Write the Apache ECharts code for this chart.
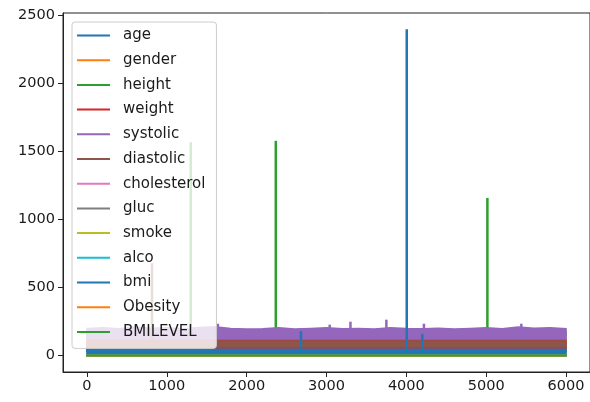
<!DOCTYPE html>
<html>
<head>
	<meta charset="utf-8">
	<title>features plot</title>
	<script type="text/javascript" src="https://cdn.jsdelivr.net/npm/echarts@6/dist/echarts.min.js"></script>
	<style>body{margin:0;background:#fff}</style>
</head>
<body>
	<div id='main' style='width: 590px;height:402px;'></div>
	<script type="text/javascript">
// column names and matplotlib tab10 colours, in plotting order
var names = ['age', 'gender', 'height', 'weight', 'systolic', 'diastolic', 'cholesterol',
    'gluc', 'smoke', 'alco', 'bmi', 'Obesity', 'BMILEVEL'];
var colors = ['#1f77b4', '#ff7f0e', '#2ca02c', '#d62728', '#9467bd', '#8c564b', '#e377c2',
    '#7f7f7f', '#bcbd22', '#17becf', '#1f77b4', '#ff7f0e', '#2ca02c'];

// row index where the envelope of each dense band is read
var xs = [0, 200, 400, 600, 800, 1000, 1200, 1400, 1600, 1800, 2000, 2200, 2400, 2600, 2800,
    3000, 3200, 3400, 3600, 3800, 4000, 4200, 4400, 4600, 4800, 5000, 5200, 5400, 5600, 5800, 6000];

// low / high edge of each band (a pair means a flat band)
var ageBand = [30, 64];
var genderBand = [1, 2];
var heightBand = [145, 182];
var weightLo = 45;
var weightHi = [130, 125, 132, 126, 128, 124, 131, 127, 125, 129, 126, 130, 125, 131, 127, 124,
    129, 126, 130, 125, 127, 131, 126, 129, 125, 127, 130, 126, 128, 125, 127];
var systolicLo = 122;
var systolicHi = [200, 205, 198, 210, 202, 205, 198, 208, 212, 200, 196, 198, 205, 196, 200, 205,
    198, 200, 196, 205, 200, 198, 202, 196, 200, 205, 198, 210, 202, 205, 198];
var diastolicBand = [64, 108];
var cholesterolBand = [1, 3];
var glucBand = [1, 3];
var smokeBand = [0, 1];
var alcoBand = [0, 1];
var bmiBand = [15, 48];
var obesityBand = [0, 1];
var bmiLevelBand = [0, 4];

// single outliers: [row, value]
var heightSpikes = [[1300, 1570], [2365, 1580], [5015, 1160]];
var systolicSpikes = [[1640, 235], [3040, 228], [3300, 250], [3750, 265], [4220, 235], [5440, 235]];
var diastolicSpikes = [[815, 680]];
var bmiSpikes = [[2680, 180], [4005, 2400], [4200, 160]];

var xTicks = [0, 1000, 2000, 3000, 4000, 5000, 6000];
var yTicks = [0, 500, 1000, 1500, 2000, 2500];

function edge(v, i) {
    return typeof v === 'number' ? v : v[i];
}

function bandSeries(idx, lo, hi, spikes) {
    return {
        type: 'custom',
        name: names[idx],
        itemStyle: { color: colors[idx] },
        data: [[0, 0]],
        clip: true,
        silent: true,
        renderItem: function (params, api) {
            var color = api.visual('color');
            var top = [], bottom = [];
            for (var i = 0; i < xs.length; i++) {
                top.push(api.coord([xs[i], edge(hi, i)]));
                bottom.unshift(api.coord([xs[i], edge(lo, i)]));
            }
            var kids = [{
                type: 'polygon',
                shape: { points: top.concat(bottom) },
                style: { fill: color, stroke: color, lineWidth: 1.5 }
            }];
            (spikes || []).forEach(function (s) {
                var k = Math.round(s[0] / 200);
                var a = api.coord([s[0], edge(lo, k)]);
                var b = api.coord([s[0], s[1]]);
                kids.push({
                    type: 'line',
                    shape: { x1: a[0], y1: a[1], x2: b[0], y2: b[1] },
                    style: { stroke: color, lineWidth: 2.5 }
                });
            });
            return { type: 'group', children: kids };
        }
    };
}

var series = [
    bandSeries(0, ageBand[0], ageBand[1]),
    bandSeries(1, genderBand[0], genderBand[1]),
    bandSeries(2, heightBand[0], heightBand[1], heightSpikes),
    bandSeries(3, weightLo, weightHi),
    bandSeries(4, systolicLo, systolicHi, systolicSpikes),
    bandSeries(5, diastolicBand[0], diastolicBand[1], diastolicSpikes),
    bandSeries(6, cholesterolBand[0], cholesterolBand[1]),
    bandSeries(7, glucBand[0], glucBand[1]),
    bandSeries(8, smokeBand[0], smokeBand[1]),
    bandSeries(9, alcoBand[0], alcoBand[1]),
    bandSeries(10, bmiBand[0], bmiBand[1], bmiSpikes),
    bandSeries(11, obesityBand[0], obesityBand[1]),
    bandSeries(12, bmiLevelBand[0], bmiLevelBand[1])
];

var font = 'DejaVu Sans';
function plain(v) { return String(v); }
option = {
    backgroundColor: '#fff',
    animation: false,
    textStyle: { fontFamily: font },
    grid: {
        left: 63, top: 13, width: 533, height: 359,
        show: true, borderColor: '#222', borderWidth: 1
    },
    legend: {
        orient: 'vertical',
        left: 72, top: 22,
        data: names,
        icon: 'rect',
        itemWidth: 33, itemHeight: 2,
        itemGap: 7.7,
        padding: [5, 11, 8, 5],
        selectedMode: false,
        backgroundColor: 'rgba(255,255,255,0.8)',
        borderColor: '#cccccc', borderWidth: 1, borderRadius: 3,
        textStyle: { fontFamily: font, fontSize: 15, color: '#1a1a1a', lineHeight: 17, padding: [0, 0, 0, 8] }
    },
    xAxis: {
        type: 'value', min: -300, max: 6300,
        splitLine: { show: false },
        axisLine: { show: true, onZero: false, lineStyle: { color: '#222' } },
        axisTick: { show: true, length: 5, customValues: xTicks, lineStyle: { color: '#222' } },
        axisLabel: { customValues: xTicks, formatter: plain, fontFamily: font, fontSize: 14.5, color: '#1a1a1a', margin: 7 }
    },
    yAxis: {
        type: 'value', min: -120, max: 2520,
        splitLine: { show: false },
        axisLine: { show: true, onZero: false, lineStyle: { color: '#222' } },
        axisTick: { show: true, length: 5, customValues: yTicks, lineStyle: { color: '#222' } },
        axisLabel: { customValues: yTicks, formatter: plain, fontFamily: font, fontSize: 14.5, color: '#1a1a1a', margin: 8 }
    },
    series: series
};
    var myChart = echarts.init(document.getElementById('main'));
    myChart.setOption(option);
	</script>
</body>
</html>
